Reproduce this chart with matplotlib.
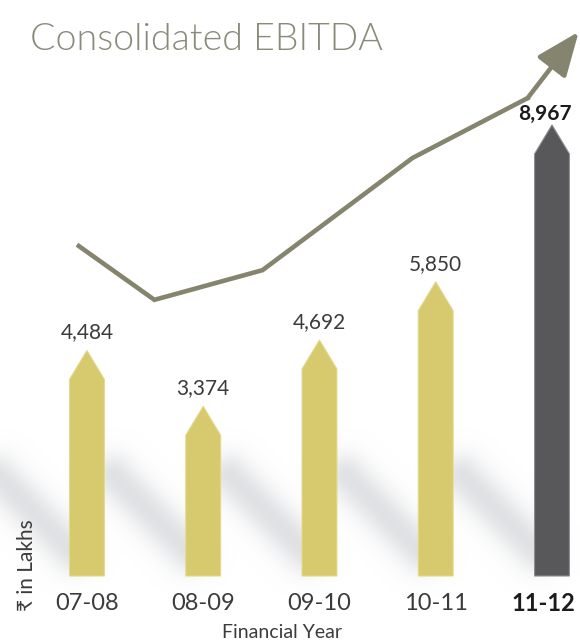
import matplotlib
matplotlib.use("Agg")
import matplotlib.pyplot as plt
import numpy as np

# EBITDA, Rs in lakhs
years = ["07-08", "08-09", "09-10", "10-11", "11-12"]
ebitda = [4484, 3374, 4692, 5850, 8967]
value_labels = ["4,484", "3,374", "4,692", "5,850", "8,967"]

# decorative growth arrow (in bar-index / value units)
trend_x = [-0.07, 0.58, 1.51, 2.80, 3.79, 4.23]
trend_y = [6560, 5490, 6080, 8310, 9500, 10820]

yellow = "#d7c96d"
dark = "#58585a"
olive = "#85846f"
txt = "#3b3b3b"

W, H = 580, 644
fig = plt.figure(figsize=(W / 100, H / 100), dpi=100)
ax = fig.add_axes([0, 0, 1, 1])
ax.set_xlim(-0.748, 4.241)
ax.set_ylim(-1352, 11451)
ax.axis("off")

x = np.arange(len(years))
bw = 0.30
tip = 576  # height of the pointed top, in value units

# soft diagonal shadows behind each bar
xs = np.arange(W) + 0.5
ys = np.arange(H) + 0.5
gx, gy = np.meshgrid(xs, ys)
alpha = np.zeros((H, W))
for xi in x:
    a = ax.transData.transform((xi - bw / 2 + 0.02, 500))
    b = ax.transData.transform((xi - bw / 2 - 0.62, 2000))
    d = b - a
    t = np.clip(((gx - a[0]) * d[0] + (gy - a[1]) * d[1]) / (d @ d), 0, 1)
    dist = np.hypot(gx - (a[0] + t * d[0]), gy - (a[1] + t * d[1]))
    alpha = np.maximum(alpha, np.exp(-dist ** 2 / (2 * 15.0 ** 2)))
img = np.zeros((H, W, 4))
img[..., :3] = (0.855, 0.863, 0.875)
img[..., 3] = alpha * 0.85
ax.imshow(img, origin="lower", extent=(*ax.get_xlim(), *ax.get_ylim()),
          aspect="auto", zorder=0, interpolation="bilinear")

for i, (xi, v) in enumerate(zip(x, ebitda)):
    last = i == len(years) - 1
    ax.fill([xi - bw / 2, xi - bw / 2, xi, xi + bw / 2, xi + bw / 2],
            [0, v - tip, v, v - tip, 0],
            color=dark if last else yellow, zorder=2, lw=0.8,
            ec="#8d8d8f" if last else "#e3d98f")
    if last:
        ax.text(xi - 0.06, v + 20, value_labels[i], ha="center", va="bottom",
                fontsize=15, fontweight="bold", color="#1c1c1c", family="Lato")
        ax.text(xi - 0.07, -540, years[i], ha="center", va="center",
                fontsize=17, fontweight="bold", color="#1c1c1c", family="Lato")
    else:
        ax.text(xi, v + 160, value_labels[i], ha="center", va="bottom",
                fontsize=15, color=txt, family="Lato")
        ax.text(xi, -540, years[i], ha="center", va="center",
                fontsize=17, color=txt, family="Lato")

ax.plot(trend_x[:-1], trend_y[:-1], color=olive, lw=3.3,
        solid_joinstyle="miter", zorder=3)
ax.annotate("", xy=(trend_x[-1], trend_y[-1]), xytext=(trend_x[-2], trend_y[-2]),
            arrowprops=dict(arrowstyle="-|>,head_length=1.35,head_width=0.55",
                            mutation_scale=20, lw=3.3, color=olive,
                            shrinkA=0, shrinkB=0), zorder=3)

fig.text(30 / W, 1 - 50 / H, "Consolidated EBITDA", fontsize=27,
         fontweight=300, color="#8a8a7a", family="Lato", va="baseline")
fig.text(282 / W, 1 - 633 / H, "Financial Year", fontsize=14, color=txt,
         family="Lato", ha="center", va="center")
fig.text(27 / W, 1 - 611 / H, "₹ in Lakhs", rotation=90, fontsize=15,
         color=txt, family=["Lato", "DejaVu Sans"], ha="center", va="bottom")

fig.savefig("out.png", dpi=100)
